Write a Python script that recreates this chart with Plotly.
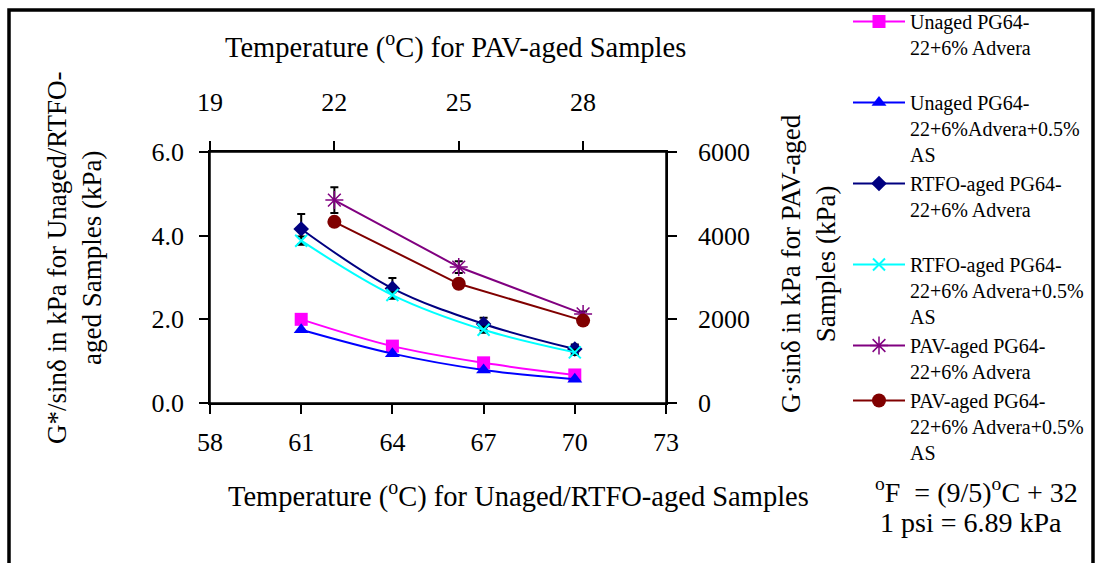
import plotly.graph_objects as go

# ---------------- data ----------------
temp_unaged_rtfo = [61, 64, 67, 70]
temp_pav = [22, 25, 28]

unaged_advera = [2.00, 1.36, 0.96, 0.67]
unaged_advera_as = [1.75, 1.18, 0.79, 0.57]
rtfo_advera = [4.16, 2.74, 1.89, 1.29]
rtfo_advera_err = [0.36, 0.25, 0.15, 0.11]
rtfo_advera_as = [3.88, 2.58, 1.75, 1.21]
rtfo_advera_as_err = [0.10, 0.07, 0.07, 0.06]
pav_advera = [4850, 3250, 2130]
pav_advera_err = [310, 140, 60]
pav_advera_as = [4330, 2850, 1970]

bottom_ticks = [58, 61, 64, 67, 70, 73]
top_ticks = [19, 22, 25, 28]
left_ticks = [0, 2, 4, 6]
right_ticks = [0, 2000, 4000, 6000]

names = [
    "Unaged PG64-<br>22+6% Advera<br> ",
    "Unaged PG64-<br>22+6%Advera+0.5%<br>AS",
    "RTFO-aged PG64-<br>22+6% Advera<br> ",
    "RTFO-aged PG64-<br>22+6% Advera+0.5%<br>AS",
    "PAV-aged PG64-<br>22+6% Advera",
    "PAV-aged PG64-<br>22+6% Advera+0.5%<br>AS",
]

FONT = "Liberation Serif"
TICK = 26
TITLE = 28.5

# plot area in pixels
L, R, T, B = 210, 666, 152, 403
W, H = 1097, 563
def px(x):
    return (x - L) / (R - L)
def py(y):
    return (B - y) / (B - T)

fig = go.Figure()

fig.add_trace(go.Scatter(
    x=temp_unaged_rtfo, y=unaged_advera, name=names[0], mode="lines+markers",
    line=dict(color="#FF00FF", width=2, shape="spline"),
    marker=dict(symbol="square", size=13, color="#FF00FF"),
))
fig.add_trace(go.Scatter(
    x=temp_unaged_rtfo, y=unaged_advera_as, name=names[1], mode="lines+markers",
    line=dict(color="#0000FF", width=2, shape="spline"),
    marker=dict(symbol="triangle-up", size=13, color="#0000FF"),
))
fig.add_trace(go.Scatter(
    x=temp_unaged_rtfo, y=rtfo_advera, name=names[2], mode="lines+markers",
    line=dict(color="#000080", width=2, shape="spline"),
    marker=dict(symbol="diamond", size=12, color="#000080"),
    error_y=dict(type="data", array=rtfo_advera_err, color="black", thickness=2, width=4),
))
fig.add_trace(go.Scatter(
    x=temp_unaged_rtfo, y=rtfo_advera_as, name=names[3], mode="lines+markers",
    line=dict(color="#00FFFF", width=2, shape="spline"),
    marker=dict(symbol="x-thin-open", size=12, color="#00FFFF", line=dict(color="#00FFFF", width=2)),
    error_y=dict(type="data", array=rtfo_advera_as_err, color="black", thickness=2, width=4),
))
fig.add_trace(go.Scatter(
    x=temp_pav, y=pav_advera, name=names[4], mode="lines+markers",
    xaxis="x2", yaxis="y2",
    line=dict(color="#800080", width=2),
    marker=dict(symbol="asterisk-open", size=15, color="#800080", line=dict(color="#800080", width=1.5)),
    error_y=dict(type="data", array=pav_advera_err, color="black", thickness=2, width=4),
))
fig.add_trace(go.Scatter(
    x=temp_pav, y=pav_advera_as, name=names[5], mode="lines+markers",
    xaxis="x2", yaxis="y2",
    line=dict(color="#800000", width=2),
    marker=dict(symbol="circle", size=14, color="#800000"),
))

def axis_common(standoff):
    return dict(
        showline=True, linecolor="black", linewidth=1.5, mirror=False,
        ticks="outside", ticklen=9, tickwidth=1.5, tickcolor="black",
        showgrid=False, zeroline=False, ticklabelstandoff=standoff,
        tickfont=dict(family=FONT, size=TICK, color="black"),
    )

fig.update_layout(
    width=W, height=H,
    margin=dict(l=L, r=W - R, t=T, b=H - B, autoexpand=False),
    paper_bgcolor="white", plot_bgcolor="white",
    font=dict(family=FONT, color="black"),
    xaxis=dict(range=[58, 73], tickvals=bottom_ticks, **axis_common(6)),
    xaxis2=dict(range=[19, 30], tickvals=top_ticks, overlaying="x", side="top",
                **axis_common(20)),
    yaxis=dict(range=[0, 6], tickvals=left_ticks, tickformat=".1f", **axis_common(10)),
    yaxis2=dict(range=[0, 6000], tickvals=right_ticks, overlaying="y", side="right",
                **axis_common(16)),
    legend=dict(
        x=px(848), y=py(2), xanchor="left", yanchor="top",
        font=dict(family=FONT, size=20, color="black"),
        bgcolor="rgba(0,0,0,0)", valign="top", tracegroupgap=0,
        itemwidth=52, maxheight=1,
    ),
    showlegend=True,
)

# frame of plot area
fig.add_shape(type="rect", xref="paper", yref="paper", x0=0, x1=1, y0=0, y1=1,
              line=dict(color="black", width=1.5), layer="above")
# outer border
fig.add_shape(type="rect", xref="paper", yref="paper",
              x0=px(9), x1=px(1093), y0=py(570), y1=py(10),
              line=dict(color="black", width=3.5))

def note(text, x, y, angle=0, size=TITLE):
    fig.add_annotation(x=px(x), y=py(y), xref="paper", yref="paper",
                       xanchor="center", yanchor="middle", showarrow=False,
                       text=text, textangle=angle,
                       font=dict(family=FONT, size=size, color="black"))

# axis titles
note("Temperature (<sup>o</sup>C) for PAV-aged Samples", 455, 46)
note("Temperature (<sup>o</sup>C) for Unaged/RTFO-aged Samples", 518, 494)
note("G*/sinδ in kPa for Unaged/RTFO-<br>aged Samples (kPa)", 74, 258, angle=-90, size=27)
note("G·sinδ in kPa for PAV-aged<br>Samples (kPa)", 808, 264, angle=-90, size=27)

# conversion notes
fig.add_annotation(x=px(873), y=py(490), xref="paper", yref="paper",
                   xanchor="left", yanchor="middle", showarrow=False,
                   text="<sup>o</sup>F  = (9/5)<sup>o</sup>C + 32",
                   font=dict(family=FONT, size=28, color="black"))
fig.add_annotation(x=px(878), y=py(522), xref="paper", yref="paper",
                   xanchor="left", yanchor="middle", showarrow=False,
                   text="1 psi = 6.89 kPa",
                   font=dict(family=FONT, size=28, color="black"))

fig.write_html("out.html")
